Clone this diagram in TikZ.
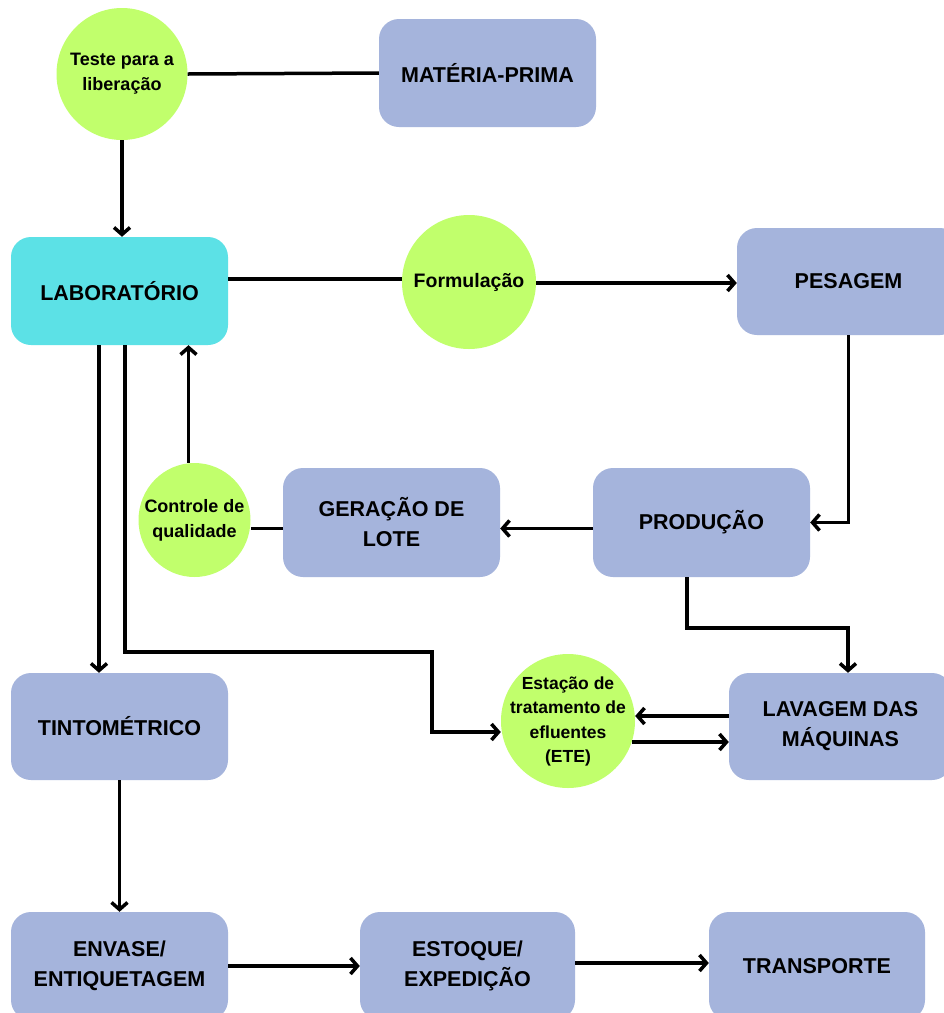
\documentclass[tikz,border=0pt]{standalone}
\usepackage{fontspec}
\setmainfont{Liberation Sans}
\usetikzlibrary{arrows.meta,calc,shapes.geometric}
\definecolor{boxblue}{HTML}{A5B4DC}
\definecolor{labcyan}{HTML}{5CE1E6}
\definecolor{lgreen}{HTML}{C1FF6C}
\tikzset{
  box/.style={rectangle, rounded corners=20pt, fill=boxblue, draw=none, align=center,
    font=\bfseries\fontsize{21.5}{30}\selectfont, inner sep=0pt},
  circ/.style={ellipse, fill=lgreen, draw=none, align=center, inner sep=-30pt,
    font=\bfseries\fontsize{18}{25}\selectfont},
  conn/.style={line width=3.5pt, black},
  arr/.style={conn, -{Straight Barb[length=7pt,width=16pt,line width=3.5pt]}},
}
\begin{document}
\begin{tikzpicture}[x=1pt,y=-1pt]
\useasboundingbox (0,0) rectangle (944,1013);
\fill[white] (0,0) rectangle (944,1013);
% nodes
\node[box, minimum width=217pt, minimum height=108pt] (mp) at (487.5,73) {MATÉRIA-PRIMA};
\node[box, fill=labcyan, minimum width=217pt, minimum height=108pt] (lab) at (119.5,291) {LABORATÓRIO};
\node[circ, minimum width=131pt, minimum height=132pt] (teste) at (122,74) {Teste para a\\liberação};
\node[circ, minimum width=134pt, minimum height=134pt, font=\bfseries\fontsize{19.5}{25}\selectfont] (form) at (469,282) {Formulação};
\node[box, minimum width=223pt, minimum height=107pt] (pes) at (848.5,281.5) {PESAGEM};
\node[box, minimum width=217pt, minimum height=109pt] (prod) at (701.5,522.5) {PRODUÇÃO};
\node[box, minimum width=217pt, minimum height=109pt] (ger) at (391.5,522.5) {GERAÇÃO DE\\LOTE};
\node[circ, minimum width=112pt, minimum height=114pt] (cq) at (194.5,520) {Controle de\\qualidade};
\node[box, minimum width=217pt, minimum height=107pt] (tint) at (119.5,726.5) {TINTOMÉTRICO};
\node[circ, minimum width=134pt, minimum height=134pt, font=\bfseries\fontsize{17.5}{24.5}\selectfont] (ete) at (568,721) {\raisebox{-6pt}{\begin{tabular}{@{}c@{}}Estação de\\tratamento de\\efluentes\\(ETE)\end{tabular}}};
\node[box, minimum width=223pt, minimum height=107pt] (lav) at (840.5,726.5) {LAVAGEM DAS\\MÁQUINAS};
\node[box, minimum width=217pt, minimum height=108pt] (env) at (119.5,966) {ENVASE/\\ENTIQUETAGEM};
\node[box, minimum width=215pt, minimum height=108pt] (est) at (467.5,966) {ESTOQUE/\\EXPEDIÇÃO};
\node[box, minimum width=216pt, minimum height=108pt] (tr) at (817,966) {TRANSPORTE};
% bend points
\coordinate (k1) at (432,652);
\coordinate (k2) at (432,732);
\coordinate (k3) at (848,628);
\coordinate (e1) at ([yshift=10.5pt]lav.west);
\coordinate (e2) at ([yshift=-15.5pt]lav.west);
% connectors
\draw[conn] (teste.east) -- (mp.west);
\draw[arr] (teste.south) -- (teste.south |- lab.north);
\draw[conn] ([yshift=3pt]form.west -| lab.east) -- ([yshift=3pt]form.west);
\draw[arr] ([yshift=-1pt]form.east) -- ([yshift=-1pt]form.east -| pes.west);
\draw[arr] (pes.south) |- (prod.east);
\draw[arr] ([yshift=-6pt]prod.west) -- ([yshift=-6pt]ger.east);
\draw[conn] ([yshift=-6pt]ger.west) -- ([yshift=-6pt]ger.west -| cq.east);
\draw[arr] ([xshift=-6pt]cq.north) -- ([xshift=-6pt]cq.north |- lab.south);
\draw[arr] ([xshift=-20.5pt]lab.south) -- ([xshift=-20.5pt]lab.south |- tint.north);
\draw[arr] ([xshift=5.5pt]lab.south) |- (k1) -- (k2) -- (k2 -| ete.west);
\draw[arr] ([xshift=-14.5pt]prod.south) |- (k3) -- (k3 |- lav.north);
\draw[arr] (e1) -- (e1 -| ete.east);
\draw[arr] ($(e2 -| ete.east)+(-3,0)$) -- (e2);
\draw[arr] (tint.south) -- (env.north);
\draw[arr] (env.east) -- (est.west);
\draw[arr] ([yshift=3pt]est.east) -- ([yshift=3pt]tr.west);
\end{tikzpicture}
\end{document}
